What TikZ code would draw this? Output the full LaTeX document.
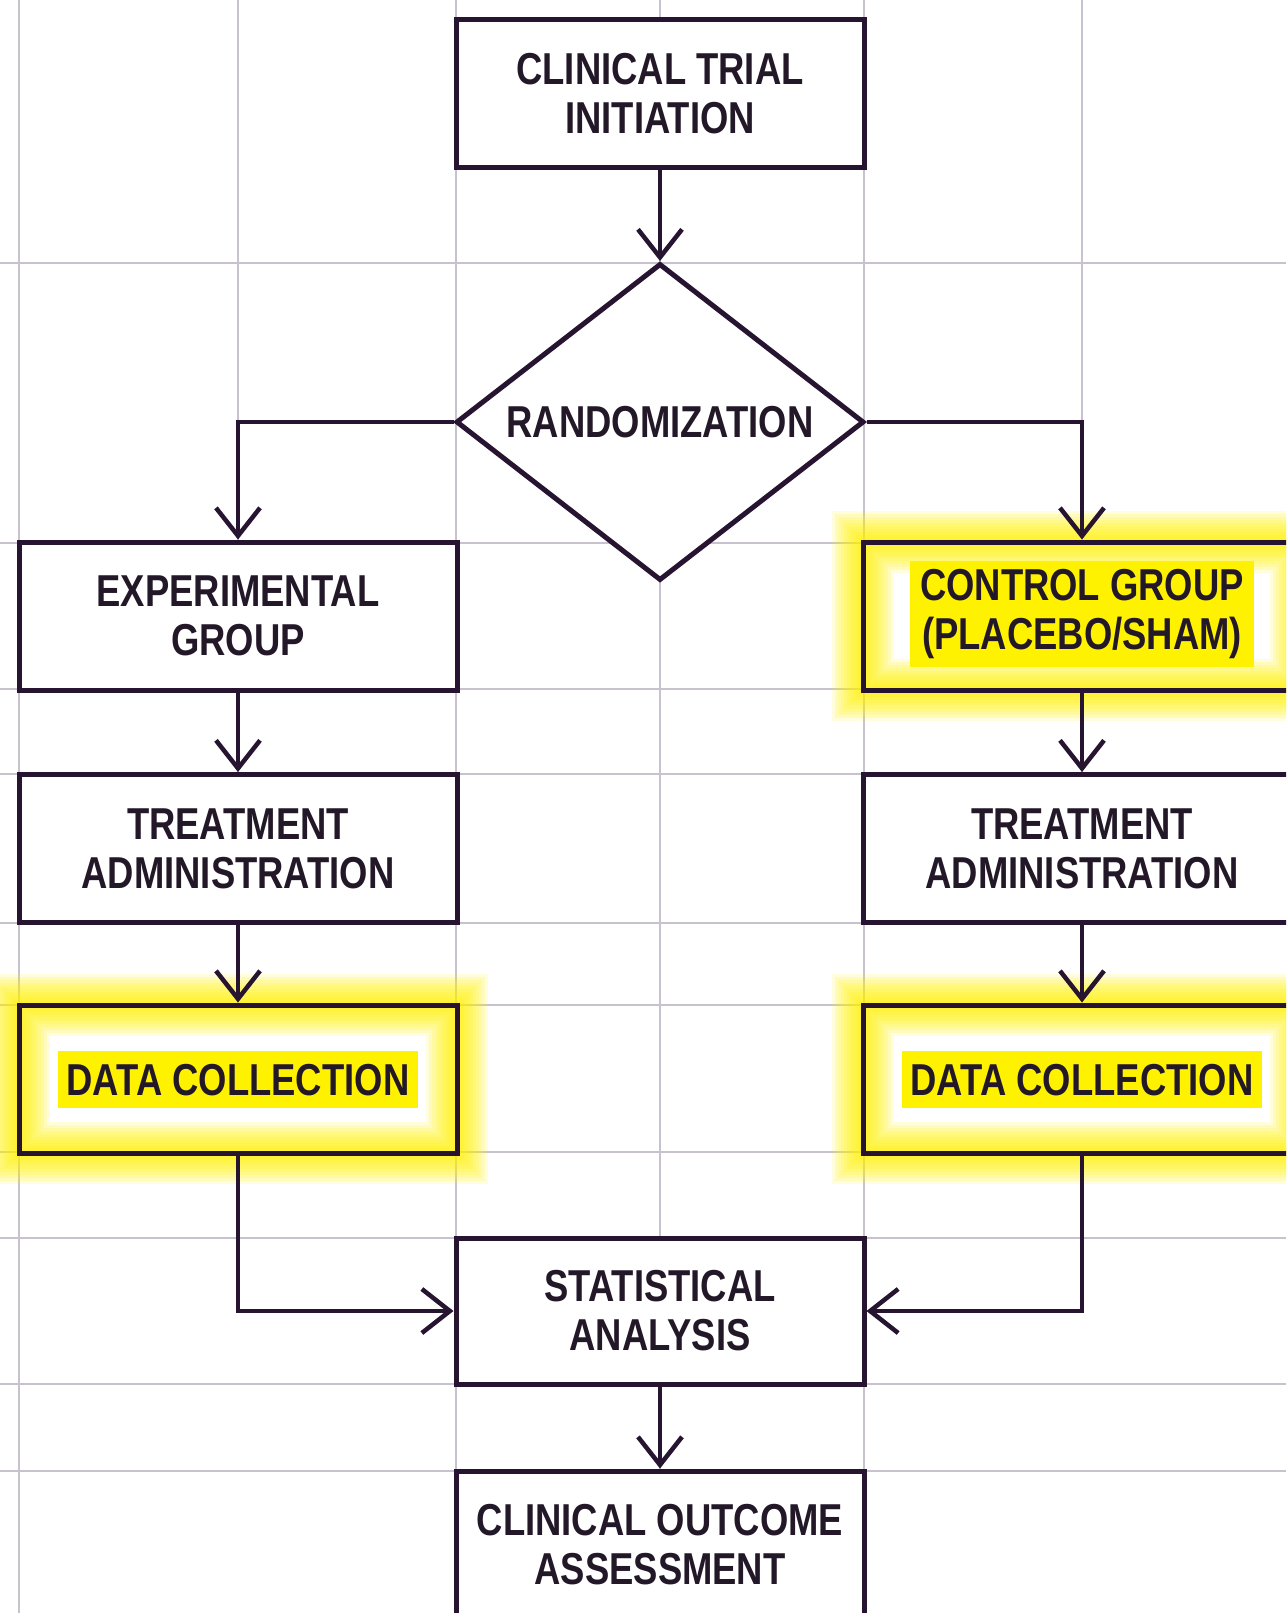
\documentclass[tikz,border=0pt]{standalone}
\usepackage{fontspec}
\setmainfont{Liberation Sans}[FakeStretch=0.815]
\usetikzlibrary{arrows.meta,shapes.geometric}
\definecolor{ink}{RGB}{38,20,48}
\definecolor{txt}{RGB}{35,24,40}
\definecolor{gridc}{RGB}{200,194,206}
\definecolor{hl}{RGB}{255,242,0}
\begin{document}
\begin{tikzpicture}[x=1pt,y=-1pt,
  lbl/.style={text=txt, font=\bfseries\fontsize{44.7}{49}\selectfont, align=center},
  box/.style={lbl, draw=ink, line width=5pt, fill=white, minimum width=408pt, minimum height=148pt, inner sep=0pt},
  widebox/.style={box, minimum width=438pt},
  gl/.style={preaction={draw=hl, line width=#1, draw opacity=0.14}},
  glowbox/.style={widebox, fill=none,
    preaction={fill=white},
    gl=62pt, gl=56pt, gl=50pt, gl=44pt, gl=38pt, gl=32pt, gl=26pt, gl=20pt, gl=14pt, gl=8pt},
  hltext/.style={lbl, fill=hl, inner xsep=10pt, inner ysep=8pt},
  hlone/.style={hltext, text height=33pt, text depth=0pt, inner xsep=9pt, inner ysep=12pt},
  conn/.style={draw=ink, line width=4.5pt, -{Straight Barb[length=28pt, width=44pt]}},
  gridline/.style={draw=gridc, line width=2.5pt}
]
\path[use as bounding box] (0,0) rectangle (1286,1613);
\clip (0,0) rectangle (1286,1613);
\fill[white] (0,0) rectangle (1286,1613);

% grid
\foreach \x in {19,456,660,864} \draw[gridline] (\x,0) -- (\x,1613);
\foreach \x in {238,1082} \draw[gridline] (\x,0) -- (\x,1312);
\foreach \y in {263,543,689,774,923,1005,1152,1238,1384,1471} \draw[gridline] (0,\y) -- (1286,\y);

% nodes
\node[box] (init) at (660,94) {CLINICAL TRIAL\\INITIATION};
\node[lbl, shape=diamond, draw=ink, line width=5pt, fill=white, aspect=1.287,
      minimum width=408pt, minimum height=317pt, inner sep=0pt] (rand) at (660,422) {RANDOMIZATION};
\node[widebox] (exp) at (238,616) {EXPERIMENTAL\\GROUP};
\node[glowbox] (ctrl) at (1082,616) {};
\node[hltext] (ctrltxt) at ([yshift=2pt]ctrl.center) {CONTROL GROUP\\(PLACEBO/SHAM)};
\node[widebox] (treatL) at (238,848.5) {TREATMENT\\ADMINISTRATION};
\node[widebox] (treatR) at (1082,848.5) {TREATMENT\\ADMINISTRATION};
\node[glowbox] (dataL) at (238,1079) {};
\node[hlone] (dataLtxt) at (dataL.center) {DATA COLLECTION};
\node[glowbox] (dataR) at (1082,1079) {};
\node[hlone] (dataRtxt) at (dataR.center) {DATA COLLECTION};
\node[box, minimum height=146pt] (stat) at (660,1311) {STATISTICAL\\ANALYSIS};
\node[box] (outc) at (660,1545) {CLINICAL OUTCOME\\ASSESSMENT};

% connectors
\draw[conn] (init) -- (rand);
\draw[conn] (rand.west) -| (exp.north);
\draw[conn] (rand.east) -| (ctrl.north);
\draw[conn] (exp) -- (treatL);
\draw[conn] (treatL) -- (dataL);
\draw[conn] (ctrl) -- (treatR);
\draw[conn] (treatR) -- (dataR);
\draw[conn] (dataL.south) |- (stat.west);
\draw[conn] (dataR.south) |- (stat.east);
\draw[conn] (stat) -- (outc);
\end{tikzpicture}
\end{document}
